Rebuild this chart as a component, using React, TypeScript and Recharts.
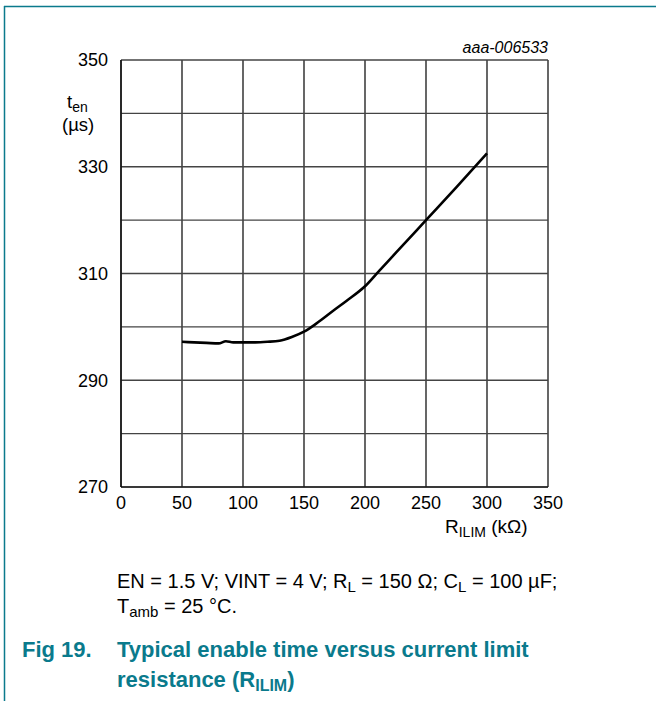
import React from "react";
import { LineChart, Line, XAxis, YAxis, CartesianGrid } from "recharts";

const resistanceK = [50, 60, 70, 80, 86, 92, 100, 110, 120, 130, 140, 150, 160, 175, 185, 200, 212, 225, 250, 275, 300];
const enableTimeUs = [297.2, 297.1, 297.0, 296.9, 297.3, 297.1, 297.1, 297.1, 297.2, 297.4, 298.1, 299.1, 300.6, 303.2, 304.9, 307.6, 310.6, 313.8, 320.0, 326.2, 332.5];
const xTicks = [0, 50, 100, 150, 200, 250, 300, 350];
const yTicks = [270, 280, 290, 300, 310, 320, 330, 340, 350];
const yLabelled = [270, 290, 310, 330, 350];

const data = resistanceK.map((r, i) => ({ r, t: enableTimeUs[i] }));

const FONT = "'Liberation Sans', Arial, Helvetica, sans-serif";
const TEAL = "#0a7a8c";

const YLabel = () => (
  <g fontFamily={FONT} fill="#000">
    <text x={67} y={108} fontSize={18.5}>
      t<tspan fontSize={14} dy={4}>en</tspan>
    </text>
    <text x={62} y={131} fontSize={18.5}>(µs)</text>
  </g>
);

const XLabel = () => (
  <g fontFamily={FONT} fill="#000">
    <text x={445} y={533} fontSize={19}>
      R<tspan fontSize={14} dy={4}>ILIM</tspan>
      <tspan dy={-4}> (kΩ)</tspan>
    </text>
  </g>
);

export default function App() {
  return (
    <div style={{ position: "absolute", left: 0, top: 0, width: 658, height: 701, background: "#fff" }}>
      <LineChart
        width={658}
        height={701}
        data={data}
        margin={{ top: 60, left: 61, right: 110, bottom: 184 }}
      >
        <CartesianGrid horizontal={false} stroke="#000" strokeWidth={1.2} />
        <CartesianGrid vertical={false} stroke="#444" strokeWidth={1.4} />
        <XAxis
          dataKey="r"
          type="number"
          domain={[0, 350]}
          ticks={xTicks}
          interval={0}
          height={30}
          axisLine={{ stroke: "#000", strokeWidth: 1.2 }}
          tickLine={false}
          tickSize={0}
          tickMargin={9}
          tick={{ fontFamily: FONT, fontSize: 18, fill: "#000" }}
          label={<XLabel />}
        />
        <YAxis
          type="number"
          domain={[270, 350]}
          ticks={yTicks}
          interval={0}
          width={60}
          axisLine={{ stroke: "#000", strokeWidth: 1.2 }}
          tickLine={false}
          tickSize={0}
          tickMargin={13}
          tickFormatter={(v: number) => (yLabelled.includes(v) ? String(v) : "")}
          tick={{ fontFamily: FONT, fontSize: 18, fill: "#000" }}
          label={<YLabel />}
        />
        <Line
          dataKey="t"
          type="monotone"
          stroke="#000"
          strokeWidth={2.6}
          dot={false}
          isAnimationActive={false}
        />
      </LineChart>
      <svg
        width={658}
        height={701}
        style={{ position: "absolute", left: 0, top: 0, pointerEvents: "none" }}
      >
        <line x1={4.5} y1={6} x2={4.5} y2={701} stroke={TEAL} strokeWidth={1.5} />
        <line x1={4} y1={6.5} x2={656} y2={6.5} stroke={TEAL} strokeWidth={1.5} />
        <text x={548} y={53} textAnchor="end" fontFamily={FONT} fontSize={16} fontStyle="italic" fill="#000">
          aaa-006533
        </text>
        <g fontFamily={FONT} fontSize={20} fill="#000">
          <text x={117} y={588}>
            EN = 1.5 V; VINT = 4 V; R<tspan fontSize={15} dy={4}>L</tspan>
            <tspan dy={-4}> = 150 Ω; C</tspan>
            <tspan fontSize={15} dy={4}>L</tspan>
            <tspan dy={-4}> = 100 µF;</tspan>
          </text>
          <text x={117} y={613}>
            T<tspan fontSize={15} dy={4}>amb</tspan>
            <tspan dy={-4}> = 25 °C.</tspan>
          </text>
        </g>
        <g fontFamily={FONT} fontSize={22} fontWeight="bold" fill={TEAL}>
          <text x={22} y={657}>Fig 19.</text>
          <text x={117} y={657}>Typical enable time versus current limit</text>
          <text x={117} y={687}>
            resistance (R<tspan fontSize={16} dy={4}>ILIM</tspan>
            <tspan dy={-4}>)</tspan>
          </text>
        </g>
      </svg>
    </div>
  );
}
